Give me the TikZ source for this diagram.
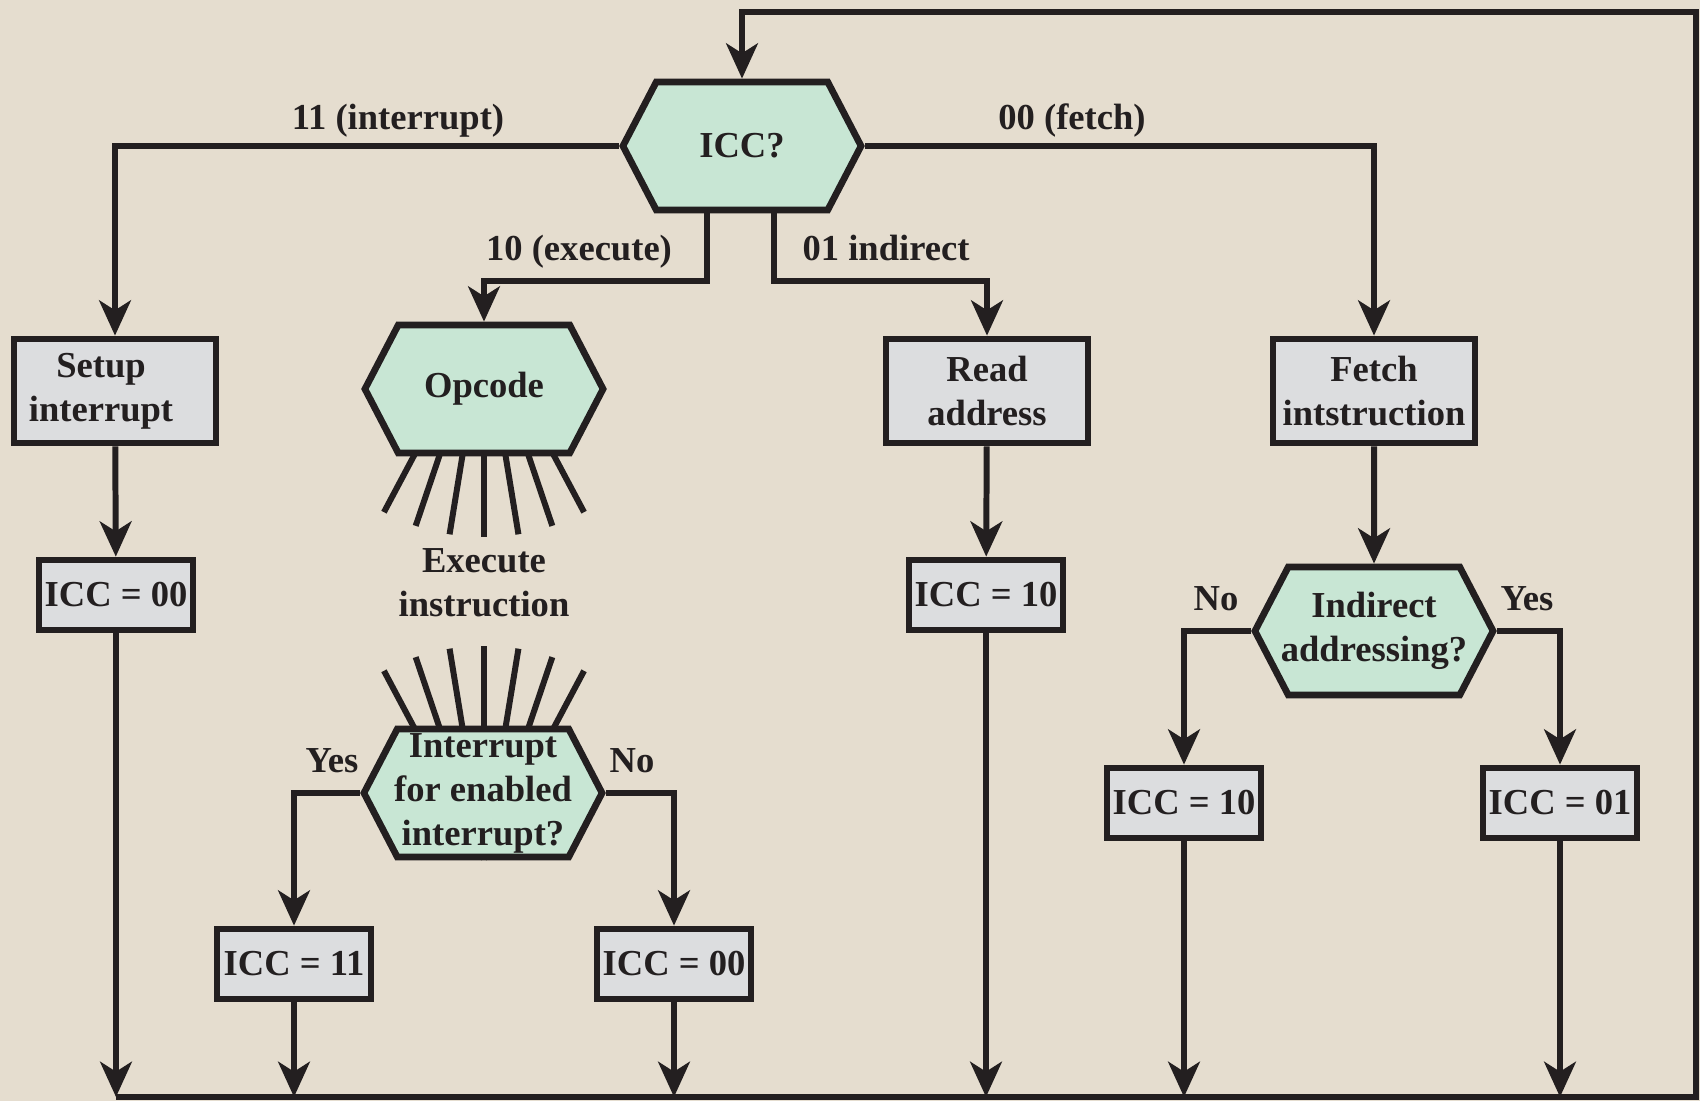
\documentclass[tikz,border=0pt]{standalone}
\usepackage{fontspec}
\setmainfont{Liberation Serif}
\usepackage{xcolor}
\usetikzlibrary{arrows.meta,calc,positioning,shapes.symbols}
\definecolor{bgbeige}{RGB}{229,221,207}
\definecolor{boxgray}{RGB}{220,221,223}
\definecolor{hexgreen}{RGB}{200,230,212}
\definecolor{inkblack}{RGB}{35,31,32}

\begin{document}
\begin{tikzpicture}[x=0.01cm,y=-0.01cm,-,line width=1.7pt,draw=inkblack,text=inkblack,font=\fontsize{10.4}{12.5}\selectfont\bfseries]
  \tikzstyle{box}=[draw, rectangle, fill=boxgray, line width=1.9pt, align=center, inner sep=1pt]
  \tikzstyle{bigbox}=[box, minimum width=2.02cm, minimum height=1.04cm]
  \tikzstyle{smallbox}=[box, minimum width=1.54cm, minimum height=0.70cm]
  \tikzstyle{hexa}=[draw, shape=signal, signal to=west and east, signal pointer angle=125, fill=hexgreen, line width=1.9pt, minimum width=2.38cm, minimum height=1.28cm, align=center, inner ysep=1pt, inner xsep=-3pt]
  \tikzstyle{lbl}=[inner sep=0pt, align=center]
  \tikzstyle{tag}=[inner sep=0pt, anchor=base]
  \tikzstyle{arr}=[-{Stealth[length=10pt,width=9pt,inset=2.8pt]}]
  \tikzstyle{ray}=[line width=1.7pt]

  \fill[bgbeige] (0,0) rectangle (1700,1101);
  \useasboundingbox (0,0) rectangle (1700,1101);
  \coordinate (bot) at (0,1097);
  \coordinate (topright) at (1696,12);

  % rays round the execute step
  \foreach \a in {-28,-18.7,-9.3,0,9.3,18.7,28}{
    \draw[ray] (484,324) -- ++(270+\a:2.13cm);
    \draw[ray] (484,859) -- ++(90+\a:2.13cm);
  }

  \node[hexa] (icc) at (742,146) {ICC?};
  \node[bigbox] (setup) at (115,391) {Setup\hspace*{0.28cm}\\interrupt\hspace*{0.28cm}};
  \node[smallbox] (icc00a) at (116,595) {ICC = 00};
  \node[hexa] (opcode) at (484,389) {Opcode};
  \node[lbl] (exec) at (484,583) {Execute\\instruction};
  \node[hexa] (intr) at (483,793) {Interrupt\\for enabled\\interrupt?};
  \node[smallbox] (icc11) at (294,964) {ICC = 11};
  \node[smallbox] (icc00b) at (674,964) {ICC = 00};
  \node[bigbox] (read) at (987,391) {Read\\address};
  \node[smallbox] (icc10a) at (986,595) {ICC = 10};
  \node[bigbox] (fetch) at (1374,391) {Fetch\\intstruction};
  \node[hexa] (indir) at (1374,631) {Indirect\\addressing?};
  \node[smallbox] (icc10b) at (1184,803) {ICC = 10};
  \node[smallbox] (icc01) at (1560,803) {ICC = 01};

  % branches of ICC?
  \draw[arr] (icc.west) -| (setup.north);
  \draw[arr] (icc.east) -| (fetch.north);
  \draw[arr] ([xshift=-0.35cm]icc.south) -- ++(0,68) -| (opcode.north);
  \draw[arr] ([xshift=0.32cm]icc.south) -- ++(0,68) -| (read.north);
  \node[tag] (l11) at (398,130) {11 (interrupt)};
  \node[tag] (l00) at (1072,130) {00 (fetch)};
  \node[tag] (l10) at (579,261) {10 (execute)};
  \node[tag] (l01) at (886,261) {01 indirect};

  \draw[arr] (setup) -- (icc00a);
  \draw[arr] (read) -- (icc10a);
  \draw[arr] (fetch) -- (indir);

  \draw[arr] (intr.west) -| (icc11.north);
  \draw[arr] (intr.east) -| (icc00b.north);
  \node[tag] (iyes) at (332,773) {Yes};
  \node[tag] (ino) at (632,773) {No};

  \draw[arr] (indir.west) -| (icc10b.north);
  \draw[arr] (indir.east) -| (icc01.north);
  \node[tag] (dno) at (1216,611) {No};
  \node[tag] (dyes) at (1527,611) {Yes};

  % back to the top
  \foreach \n in {icc00a,icc11,icc00b,icc10a,icc10b,icc01}
    \draw[arr] (\n.south) -- (\n.south |- bot);
  \draw[arr] (icc00a.south |- bot) -| (topright) -| (icc.north);
\end{tikzpicture}
\end{document}
